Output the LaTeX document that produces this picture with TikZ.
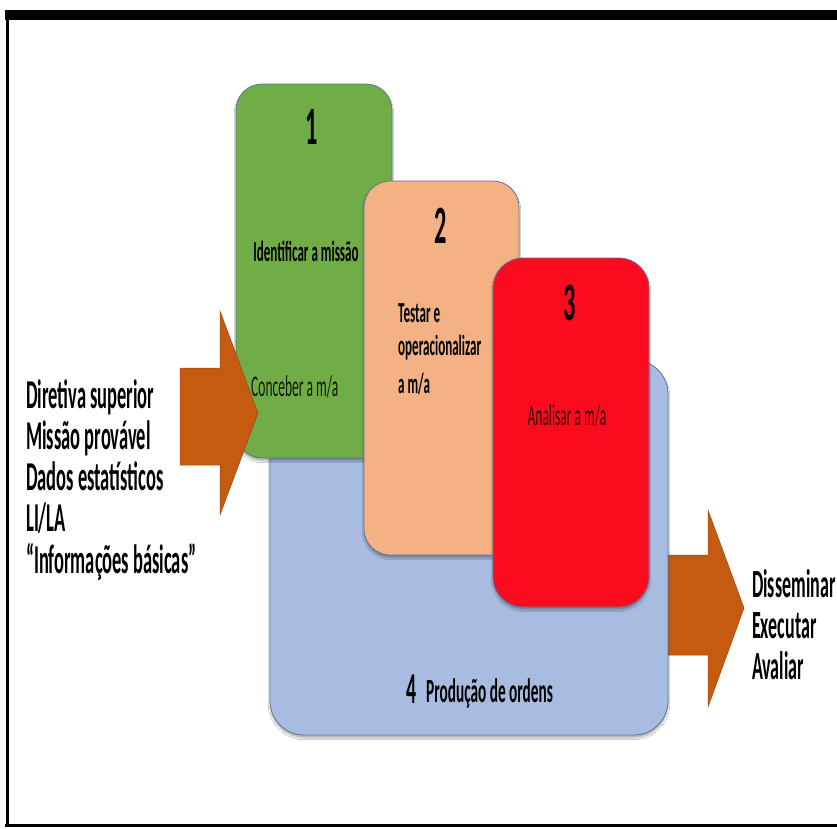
\documentclass[tikz,border=0pt]{standalone}
\usepackage{fontspec}
\usepackage{tikz}
\usetikzlibrary{shapes,backgrounds,shadows.blur}
\newfontfamily\calib[FakeStretch=0.45]{Carlito}

\begin{document}
\begin{tikzpicture}[x=1pt,y=-1pt,
    box/.style={draw=boxline, line width=0.8pt, rounded corners=26pt,
      blur shadow={shadow xshift=0pt,shadow yshift=-3pt,shadow opacity=30,shadow blur steps=6}},
    big/.style={font=\calib\bfseries\fontsize{41}{41}\selectfont, anchor=base west, inner sep=0pt},
    num/.style={font=\calib\bfseries\fontsize{54}{54}\selectfont, inner sep=0pt},
    txt/.style={font=\calib\bfseries\fontsize{29}{29}\selectfont, inner sep=0pt},
    thin/.style={font=\calib\fontsize{30}{30}\selectfont, inner sep=0pt}]
    % colours and frame %
    \definecolor{boxline}{RGB}{95,115,155}
    \definecolor{arrowc}{RGB}{197,90,17}
    \definecolor{stepone}{RGB}{112,173,71}
    \definecolor{steptwo}{RGB}{244,177,131}
    \definecolor{stepthree}{RGB}{250,12,30}
    \definecolor{stepfour}{RGB}{168,188,226}
    \useasboundingbox (0,0) rectangle (837,828);
    \fill[white] (0,0) rectangle (837,828);
    \draw[line width=3pt] (7,826) -- (7,15);
    \draw[line width=10pt] (5,15) -- (837,15);
    \draw[line width=3pt] (5,825) -- (837,825);

    % arrows in and out %
    \fill[arrowc, draw=arrowc!80!black, line width=0.5pt] (665,555) -- (708,555) -- (708,510) -- (744,608) -- (708,707) -- (708,655) -- (665,655) -- cycle;
    \draw[box, fill=stepfour, rounded corners=34pt] (270,360) rectangle (668,735);
    \draw[box, fill=stepone] (236,84) rectangle (392,458);
    \fill[arrowc, draw=arrowc!80!black, line width=0.5pt] (180,368) -- (220,368) -- (220,311) -- (258,413) -- (220,515) -- (220,465) -- (180,465) -- cycle;
    \draw[box, fill=steptwo] (364,181) rectangle (519,555);
    \draw[box, fill=stepthree, rounded corners=30pt] (493,258) rectangle (649,607);

    % texts in the boxes %
    \draw (312,127) node[num] (n1) {1};
    \draw (306,251) node[txt] (ident) {Identificar a missão};
    \draw (251,387) node[thin, anchor=west, text=black!85!stepone] (conc) {Conceber a m/a};
    \draw (441,226) node[num] (n2) {2};
    \draw (398,322) node[txt, anchor=base west] (test1) {Testar e};
    \draw (398,355) node[txt, anchor=base west] (test2) {operacionalizar};
    \draw (398,393) node[txt, anchor=base west] (test3) {a m/a};
    \draw (570,303) node[num] (n3) {3};
    \draw (567,416) node[thin, text=black!80!stepthree] (anal) {Analisar a m/a};
    \draw (412,689) node[num, font=\calib\bfseries\fontsize{44}{44}\selectfont] (n4) {4};
    \draw (426,702) node[txt, anchor=base west, font=\calib\bfseries\fontsize{34}{34}\selectfont] (prod) {Produção de ordens};

    % inputs and outputs %
    \draw (26,408) node[big] (in1) {Diretiva superior};
    \draw (26,449) node[big] (in2) {Missão provável};
    \draw (26,490) node[big] (in3) {Dados estatísticos};
    \draw (26,531) node[big] (in4) {LI/LA};
    \draw (26,573) node[big] (in5) {“Informações básicas”};
    \draw (752,597) node[big, font=\calib\bfseries\fontsize{40}{40}\selectfont] (out1) {Disseminar};
    \draw (752,638) node[big, font=\calib\bfseries\fontsize{40}{40}\selectfont] (out2) {Executar};
    \draw (752,679) node[big, font=\calib\bfseries\fontsize{40}{40}\selectfont] (out3) {Avaliar};
\end{tikzpicture}
\end{document}
